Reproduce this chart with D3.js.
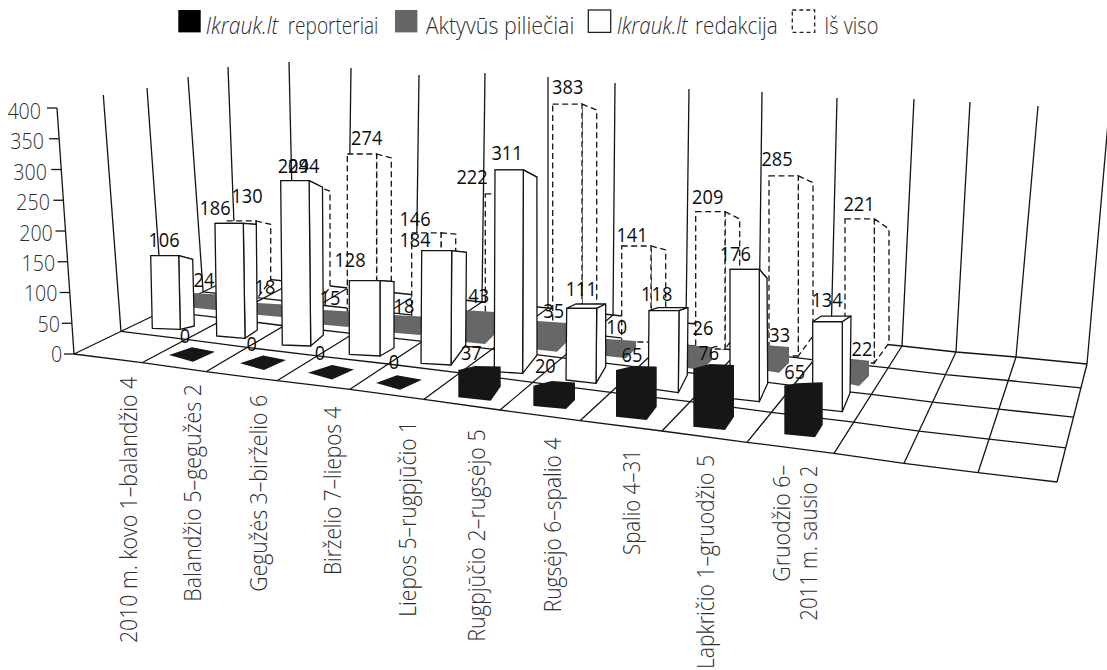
<!DOCTYPE html>
<html lang="lt">
<head>
<meta charset="utf-8">
<script src="https://cdn.jsdelivr.net/npm/d3@7/dist/d3.min.js"></script>
<style>
html,body{margin:0;padding:0;background:#fff;overflow:hidden}
svg{display:block}
text{font-family:"Open Sans","Noto Sans",sans-serif}
</style>
</head>
<body>
<svg id="c" width="1107" height="670"></svg>
<script>
// ---- DATA ----
const categories = ["2010 m. kovo 1–balandžio 4","Balandžio 5–gegužės 2","Gegužės 3–birželio 6","Birželio 7–liepos 4","Liepos 5–rugpjūčio 1","Rugpjūčio 2–rugsėjo 5","Rugsėjo 6–spalio 4","Spalio 4–31","Lapkričio 1–gruodžio 5","Gruodžio 6–\n2011 m. sausio 2"];
const blackValues = [null,0,0,0,0,37,20,65,76,65];
const grayValues  = [24,18,15,18,43,35,10,26,33,22];
const whiteValues = [106,186,294,128,184,311,111,118,176,134];
const totalValues = [130,204,274,146,222,383,141,209,285,221];
const yTicks = [0,50,100,150,200,250,300,350,400];
const legendItalic = "Ikrauk.lt";
const legendRest = ["reporteriai","Aktyvūs piliečiai","redakcija","Iš viso"];

// ---- LAYOUT SCALES (the warped 3-D frame of the picture) ----
const byIndex = r => d3.scaleLinear().domain(d3.range(r.length)).range(r);
const lerp = (a,b,t) => a+(b-a)*t;
const frontX = byIndex([74,142,206,277,350,424,500,580,662,747,834,904,978,1057]);
const frontY = byIndex([354,362.7,371.7,380.7,389.3,399.3,410,420.7,431,442.3,453.3,463.3,472.7,482]);
const backX  = byIndex([236,294,348,416,482,548,613,686,759,831,902,956,1016,1087]);
const backY  = byIndex([276,282,288,295,302,308,315,323,330,339,346,352,357,364]);
const wallTopX = byIndex([228,289,351,419,485,548,615,689,762,837,914,970,1038,1110]);
const wallTopY = byIndex([67,62,68,75,73,77,83,89,92,98,99,102,106,100]);
const sideTopX = byIndex([57,103.3,147,188,228]);
const sideTopY = byIndex([108,95,88,77,67]);
const depth = byIndex([0,.29,.549,.797,1]);
const floorPt = (i,d) => { const t=depth(d); return [lerp(frontX(i),backX(i),t),lerp(frontY(i),backY(i),t)]; };
const axisT = d3.scaleLinear().domain([0,400]).range([0,1]);
const tickGap = d3.scaleLinear().domain([0,200,400]).range([11.8,12.7,16]);
const tickDrop = d3.scaleLinear().domain([0,200,400]).range([8,9.5,10.5]);

// white bars
const whiteX = byIndex([152.3,216.7,282.3,349.3,421,494.3,566,648.3,730,812.7]);
const whiteBase = byIndex([328.3,336,345,354.3,363.3,371.7,380,388.3,398.3,408.3]);
const whiteUnit = byIndex([.685,.605,.559,.575,.612,.649,.646,.658,.733,.646]);
const whiteW = byIndex([28,28.3,28.4,30.7,30,28.3,30,30,29.3,29.6]);
const whiteLean = byIndex([-1.6,-1.7,-1.6,0,.7,.7,.7,.7,0,0]);
const whiteSlope = byIndex([1,2.3,1,1.7,1.7,1.7,3.3,4.4,3.4,3.4]);
const whiteTopDx = byIndex([14,13,13.4,14,14.7,13.6,9,9,7.7,8.7]);
const whiteTopDy = byIndex([3.6,1,6.6,1,1.6,7.3,-4.3,-3,9,-5.7]);
const whiteBotDx = byIndex([14,12.3,12.6,14,14.7,14.4,9.7,9,8.4,7.7]);
const whiteBotDy = byIndex([-3.3,-8.3,-11,-8,-20,-18.3,-16.6,-17.7,-18.4,-18.7]);
// gray bars
const grayLeft = byIndex([185,250,316,385,455,530,600,680,760,845]);
const grayBackX = byIndex([226,292,358,430,495,567,636,712,789,869]);
const grayFrontBottom = byIndex([310,317,327,335,344,351.7,358.3,370,372.7,386]);
const grayUnit = byIndex([.625,.67,1,1,.744,.82,1.73,.885,.78,1.15]);
// black bars
const blackX = byIndex([100,169,240,308,376,458.3,533.3,616,693.3,784.3]);
const blackBase = byIndex([347,355,363.3,372.7,383,397.3,406,416.7,426.7,434.3]);
const blackUnit = byIndex([.75,.75,.75,.75,.75,.74,1.015,.72,.767,.75]);
const blackFrontDx = byIndex([24,24,24,24,24,32.4,32.7,30.7,31.7,30.7]);
const blackFrontDy = byIndex([6.7,6.7,6.7,6.7,6.7,3.4,3,3.3,3.3,3]);
const blackBackDx = byIndex([46,46,46,46,46,42.4,41.7,40.7,40.7,38.4]);
const blackBackDy = byIndex([-3.3,-3.3,-3.3,-3.3,-3.3,-10.7,-6,-10,-10,-9.3]);
const blackMidDx = byIndex([23,23,23,24,21,16.7,18.4,17.3,16.7,12.4]);
const blackMidDy = byIndex([-7.7,-7.7,-7.7,-7.7,-7.7,-4,-4.7,-4,-4.3,-2.4]);
// dashed boxes
const totalX = byIndex([226.7,286,347.3,411.7,485.3,552.7,621.7,695.7,769,845]);
const totalBase = byIndex([300,307,314,321,328,335,342,349,356,363]);
const totalUnit = byIndex([.608,.593,.584,.604,.604,.603,.681,.657,.632,.652]);
const totalTopDy = byIndex([3.3,5,4,1.3,5,6,4,7.3,6.7,10]);
// data-label placement
const whiteLabelX = byIndex([164,215,303.7,350,415,507,581.3,656.7,735.3,827]);
const whiteLabelGap = byIndex([9,8.5,7.4,14,3.7,10,12.3,10,8.3,14.4]);
const totalLabelX = byIndex([247,293.3,366.7,415,472,567.7,632,707.7,777,859]);
const totalLabelGap = byIndex([17.7,12.7,9.3,7,10,10,4.3,7.7,10.3,8]);
const grayLabelX = byIndex([204,265,330,404,478.7,553.7,616.7,703,779.7,862]);
const grayLabelGap = byIndex([8.3,10.7,7,4.3,9.3,4.7,7,12,5.3,5]);
const blackLabelX = byIndex([120,185,251.7,320,394,471.3,545.3,632,708.7,794.7]);
const blackLabelGap = byIndex([11.7,11.7,12.3,12.7,13.7,10,12.4,8.3,8.3,6.4]);
// category label placement (one entry per text line)
const catX = byIndex([137,200.7,266.7,340.7,416,485,560.7,640,714.3,790,817.3]);
const catY = byIndex([377,384,395,406.7,421,429.3,437.7,449.3,455,465,465.7]);
const catLen = byIndex([266,217.7,196.7,168.3,195.7,212.4,174.6,105.7,214,116.7,155]);

const INK="#141414", TXT="#0c0c0c", SOFT="#2e2e2e", SW=1.3;
const svg=d3.select("#c");
const path=d3.line();
const poly=pts=>path(pts)+"Z";

// ---- WALLS + FLOOR ----
const frame=svg.append("g").attr("fill","none").attr("stroke",INK).attr("stroke-width",SW);
const cols=d3.range(14), rows=d3.range(5);
frame.selectAll(".wb").data(cols.slice(1)).join("line").attr("class","wb")
  .attr("x1",i=>backX(i)).attr("y1",i=>backY(i)).attr("x2",i=>wallTopX(i)).attr("y2",i=>wallTopY(i));
frame.selectAll(".ws").data(rows.slice(1)).join("line").attr("class","ws")
  .attr("x1",d=>floorPt(0,d)[0]).attr("y1",d=>floorPt(0,d)[1]).attr("x2",d=>sideTopX(d)).attr("y2",d=>sideTopY(d));
frame.selectAll(".fc").data(cols).join("path").attr("class","fc")
  .attr("d",i=>path([floorPt(i,0),floorPt(i,4)]));
frame.selectAll(".fr").data(rows).join("path").attr("class","fr")
  .attr("d",d=>path(cols.map(i=>floorPt(i,d))));

// ---- Y AXIS ----
const axisPt=v=>[lerp(frontX(0),sideTopX(0),axisT(v)),lerp(frontY(0),sideTopY(0),axisT(v))];
const yAx=svg.append("g");
yAx.append("path").attr("d",path([axisPt(0),axisPt(400)])).attr("fill","none").attr("stroke",INK).attr("stroke-width",SW);
yAx.selectAll("line").data(yTicks).join("line")
  .attr("x1",v=>axisPt(v)[0]-10).attr("x2",v=>axisPt(v)[0]).attr("y1",v=>axisPt(v)[1]).attr("y2",v=>axisPt(v)[1])
  .attr("stroke",INK).attr("stroke-width",SW);
yAx.selectAll("text").data(yTicks).join("text")
  .attr("x",v=>axisPt(v)[0]-tickGap(v)).attr("y",v=>axisPt(v)[1]+tickDrop(v)).attr("text-anchor","end")
  .attr("font-size",22).attr("font-weight",300).attr("fill",SOFT)
  .attr("textLength",v=>String(v).length*11.2).attr("lengthAdjust","spacingAndGlyphs").text(v=>v);

// ---- DASHED TOTAL BOXES ----
const totals=svg.append("g");
totalValues.forEach((v,i)=>{
  const x=totalX(i), b=totalBase(i), top=b-v*totalUnit(i), fr=x+29.3, br=x+44;
  const g=totals.append("g").attr("fill","#fff").attr("stroke",INK).attr("stroke-width",SW).attr("stroke-dasharray","6,3.5");
  g.append("path").attr("d",poly([[fr,top],[br,top+totalTopDy(i)],[br,b-20],[fr,b]]));
  g.append("path").attr("d",poly([[x,top],[fr,top],[fr,b],[x,b]]));
});

// ---- GRAY BARS ----
svg.append("g").selectAll("path").data(grayValues).join("path").attr("fill","#676767")
  .attr("d",(v,i)=>{
    const fb=grayFrontBottom(i), top=fb-v*grayUnit(i), bx=grayBackX(i), l=grayLeft(i);
    return poly([[l,top-2.5],[bx,top],[bx,fb-10],[bx-10,fb],[l,fb-3]]);
  });

// ---- WHITE BARS ----
const whites=svg.append("g").attr("fill","#fff").attr("stroke",INK).attr("stroke-width",SW).attr("stroke-linejoin","round");
whiteValues.forEach((v,i)=>{
  const x=whiteX(i), b=whiteBase(i), top=b-v*whiteUnit(i), w=whiteW(i), l=whiteLean(i);
  const BL=[x,b],BR=[x+w,b+whiteSlope(i)],TL=[x+l,top],TR=[x+l+w,top];
  const BRT=[TR[0]+whiteTopDx(i),top+whiteTopDy(i)],BLT=[TL[0]+whiteTopDx(i),top+whiteTopDy(i)];
  const BRB=[BR[0]+whiteBotDx(i),BR[1]+whiteBotDy(i)];
  whites.append("path").attr("d",poly([TL,TR,BRT,BLT]));
  whites.append("path").attr("d",poly([TR,BRT,BRB,BR]));
  whites.append("path").attr("d",poly([TL,TR,BR,BL]));
});

// ---- BLACK BARS ----
const blackIdx=d3.range(blackValues.length).filter(i=>blackValues[i]!==null);
svg.append("g").selectAll("path").data(blackIdx).join("path").attr("fill","#161616")
  .attr("d",i=>{
    const x=blackX(i), b=blackBase(i), top=b-blackValues[i]*blackUnit(i);
    return poly([[x,b],[x,top],[x+blackMidDx(i),top+blackMidDy(i)],[x+blackBackDx(i),top-3.3],
      [x+blackBackDx(i),b+blackBackDy(i)],[x+blackFrontDx(i),b+blackFrontDy(i)]]);
  });

// ---- DATA LABELS ----
const labels=svg.append("g").attr("font-size",19.5).attr("fill",TXT).attr("text-anchor","middle");
const addLabels=(vals,xf,topf,gap)=>vals.forEach((v,i)=>{
  if(v===null) return;
  labels.append("text").attr("x",xf(i)).attr("y",topf(v,i)-gap(i))
    .attr("textLength",String(v).length*10.4).attr("lengthAdjust","spacingAndGlyphs").text(v);
});
addLabels(whiteValues,whiteLabelX,(v,i)=>whiteBase(i)-v*whiteUnit(i),whiteLabelGap);
addLabels(totalValues,totalLabelX,(v,i)=>totalBase(i)-v*totalUnit(i),totalLabelGap);
addLabels(grayValues,grayLabelX,(v,i)=>grayFrontBottom(i)-v*grayUnit(i),grayLabelGap);
addLabels(blackValues,blackLabelX,(v,i)=>blackBase(i)-v*blackUnit(i),blackLabelGap);

// ---- CATEGORY LABELS ----
const catLines=categories.flatMap(c=>c.split("\n"));
svg.append("g").selectAll("text").data(catLines).join("text")
  .attr("transform",(d,i)=>`translate(${catX(i)},${catY(i)}) rotate(-90)`)
  .attr("text-anchor","end").attr("font-size",24).attr("font-weight",300).attr("fill",SOFT)
  .attr("textLength",(d,i)=>catLen(i)).attr("lengthAdjust","spacingAndGlyphs").text(d=>d);

// ---- LEGEND ----
const swatchX=byIndex([178.3,395,588.3,792.3]);
const leg=svg.append("g");
const swatchStyle=[{f:"#000"},{f:"#666"},{f:"#fff",s:"#222"},{f:"#fff",s:"#222",dash:"4,3"}];
swatchStyle.forEach((st,i)=>{
  leg.append("rect").attr("x",swatchX(i)).attr("y",10).attr("width",22.4).attr("height",22.4)
    .attr("fill",st.f).attr("stroke",st.s||"none").attr("stroke-width",1.3).attr("stroke-dasharray",st.dash||null);
});
const legText=byIndex([205.7,287.7,425.7,616.7,695,824.3]);
const legLen=byIndex([72.6,90.7,148.6,71,82.7,54]);
const legWords=[legendItalic,legendRest[0],legendRest[1],legendItalic,legendRest[2],legendRest[3]];
leg.selectAll("text").data(legWords).join("text")
  .attr("x",(d,i)=>legText(i)).attr("y",33.5).attr("font-size",24).attr("font-weight",300).attr("fill",SOFT)
  .attr("font-style",d=>d===legendItalic?"italic":"normal")
  .attr("textLength",(d,i)=>legLen(i)).attr("lengthAdjust","spacingAndGlyphs").text(d=>d);
</script>
</body>
</html>
